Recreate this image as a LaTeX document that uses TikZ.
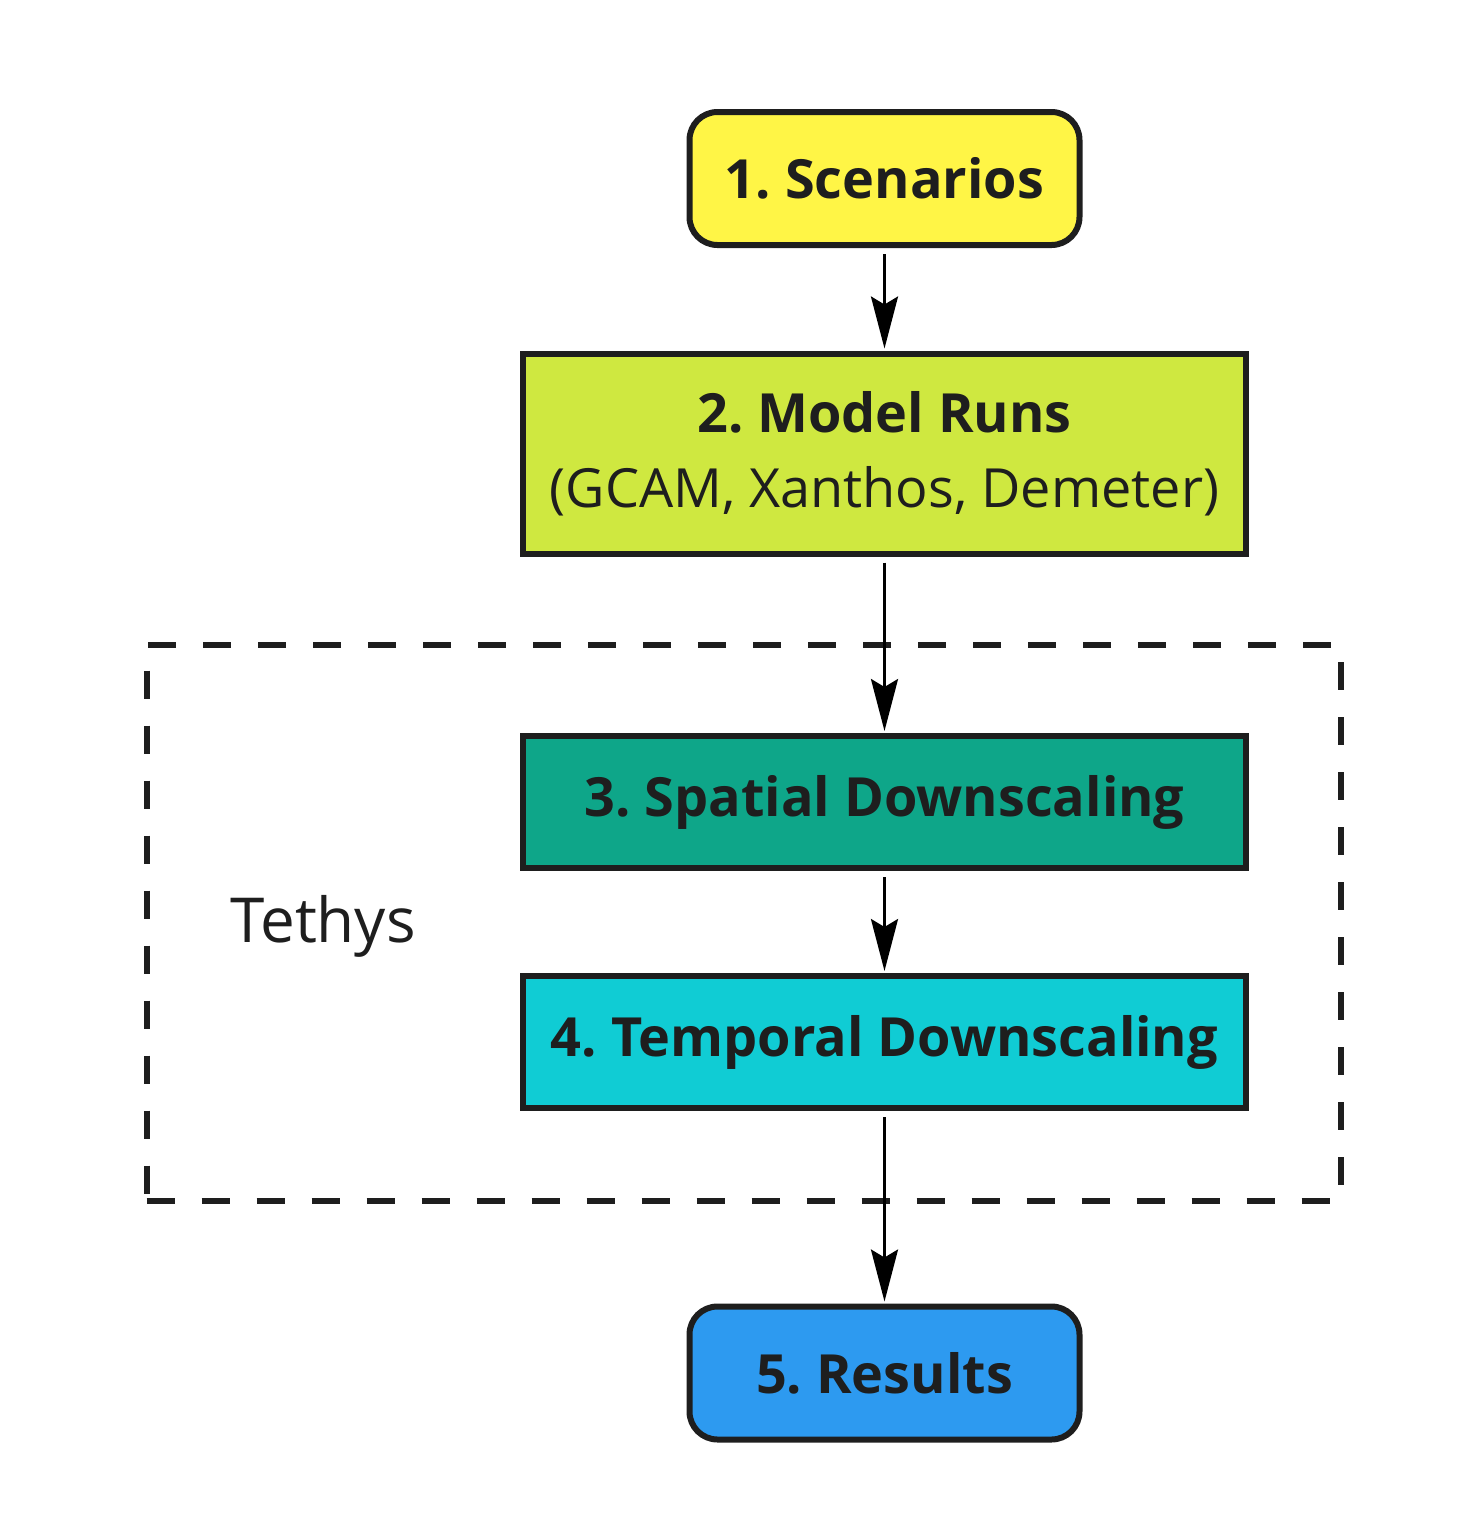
\documentclass[tikz,border=0pt]{standalone}
\usepackage{fontspec}
\setmainfont{Open Sans}
\usepackage{xcolor}
\usetikzlibrary{positioning,arrows.meta}
\frenchspacing
\definecolor{scenYellow}{HTML}{FFF546}
\definecolor{modelGreen}{HTML}{CFE840}
\definecolor{spatTeal}{HTML}{0EA689}
\definecolor{tempCyan}{HTML}{10CCD4}
\definecolor{resBlue}{HTML}{2D9AF0}
\definecolor{lineDark}{HTML}{1E1E1E}
\tikzstyle{stepBox}  =[rectangle,draw=lineDark,line width=3pt,text=lineDark,align=center,inner sep=2pt,
                       font=\fontsize{27}{37.5}\selectfont\bfseries]
\tikzstyle{endBox}   =[stepBox,rounded corners=14pt,minimum width=195pt,minimum height=66.5pt]
\tikzstyle{wideBox}  =[stepBox,minimum width=361.5pt,minimum height=66pt]
\tikzstyle{flowArrow}=[line width=1.5pt,-{Stealth[length=26pt,width=13.5pt,inset=4pt]},
                       shorten <=3pt,shorten >=1pt]

\begin{document}
\begin{tikzpicture}[x=0.5pt,y=-0.5pt]
      \useasboundingbox (0,0) rectangle (1472,1528);
      \node[draw=lineDark,line width=3pt,dash pattern=on 14pt off 13.5pt,
            minimum width=597pt,minimum height=278pt] (tethysBox) at (743.5,922.5) {};
      \node[font=\fontsize{31}{40}\selectfont,text=lineDark,anchor=base] (tethys) at (323,942) {Tethys};
      \node[endBox,fill=scenYellow] (scen) at (884.5,178.5) {1. Scenarios};
      \node[wideBox,fill=modelGreen,minimum height=100pt] (model) at (884.5,453.5)
            {2. Model Runs\\{\mdseries(GCAM, Xanthos, Demeter)}};
      \node[wideBox,fill=spatTeal] (spat) at (884.5,802) {3. Spatial Downscaling};
      \node[wideBox,fill=tempCyan] (temp) at (884.5,1042) {4. Temporal Downscaling};
      \node[endBox,fill=resBlue] (res) at (884.5,1373) {5. Results};
      \draw[flowArrow] (scen) -- (model);
      \draw[flowArrow] (model) -- (spat);
      \draw[flowArrow] (spat) -- (temp);
      \draw[flowArrow] (temp) -- (res);
    \end{tikzpicture}
\end{document}
